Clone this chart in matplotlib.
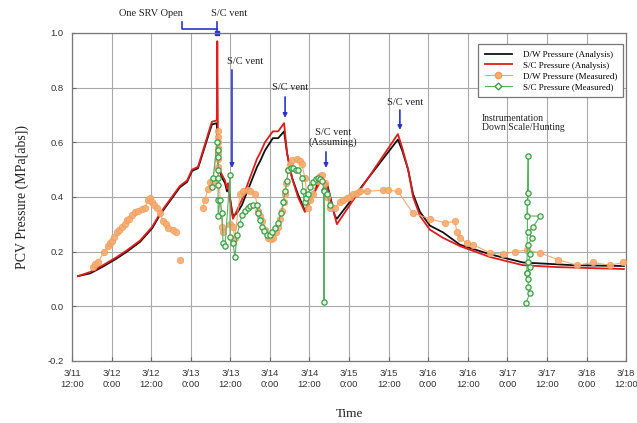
import matplotlib
matplotlib.use('Agg')
import matplotlib.pyplot as plt
from matplotlib.lines import Line2D
import numpy as np

# time = hours from 3/11 0:00, pressure in MPa[abs]
sc_calc_t = [13.8, 17.5, 21.4, 25.6, 28.7, 32.6, 36.3, 38.7, 41.7, 44.7, 46.9, 48.4, 50.2, 54.4,
             55.9, 56.05, 56.3, 57.5, 58.4, 59.0, 59.3, 60.5, 60.8, 62.0, 63.5, 68.1, 69.0, 70.5,
             72.9, 74.5, 76.3, 77.2, 78.7, 80.5, 82.6, 84.8, 87.2, 89.3, 92.3, 110.8, 112.1, 113.9,
             115.4, 117.5, 120.5, 124.5, 129.6, 138.7, 148.7, 159.1, 179.3]
sc_calc_p = [0.11, 0.125, 0.15, 0.18, 0.205, 0.24, 0.29, 0.34, 0.39, 0.44, 0.46, 0.50, 0.51, 0.675,
             0.68, 0.97, 0.51, 0.48, 0.46, 0.43, 0.45, 0.34, 0.32, 0.35, 0.39, 0.54, 0.56, 0.60,
             0.64, 0.64, 0.67, 0.56, 0.47, 0.40, 0.345, 0.40, 0.455, 0.44, 0.30, 0.63, 0.58, 0.50,
             0.40, 0.33, 0.28, 0.25, 0.22, 0.18, 0.15, 0.143, 0.136]

dw_calc_t = [13.8, 17.5, 21.4, 25.6, 28.7, 32.6, 36.3, 38.7, 41.7, 44.7, 46.9, 48.4, 50.2, 54.4,
             55.9, 56.3, 57.5, 58.4, 59.0, 59.3, 60.5, 60.8, 62.0, 63.5, 68.1, 69.0, 70.5, 72.9,
             74.5, 76.3, 77.2, 78.7, 80.5, 82.6, 84.8, 87.2, 89.3, 91.7, 92.3, 110.8, 112.1, 113.9,
             115.4, 117.5, 120.5, 124.5, 129.6, 138.7, 148.7, 163.9, 179.3]
dw_calc_p = [0.11, 0.12, 0.145, 0.175, 0.20, 0.235, 0.285, 0.335, 0.385, 0.435, 0.455, 0.495, 0.505, 0.665,
             0.67, 0.51, 0.47, 0.45, 0.42, 0.44, 0.35, 0.33, 0.34, 0.37, 0.51, 0.53, 0.57, 0.615,
             0.615, 0.64, 0.56, 0.47, 0.41, 0.35, 0.40, 0.47, 0.45, 0.33, 0.32, 0.61, 0.57, 0.50,
             0.41, 0.345, 0.295, 0.27, 0.225, 0.19, 0.16, 0.15, 0.147]

dw_meas_t = [18.4, 19.1, 19.9, 21.7, 22.9, 23.5, 24.1, 24.8, 25.6, 26.3, 27.2, 28.0, 28.7, 29.3,
             30.2, 31.1, 32.0, 33.2, 34.1, 35.0, 35.6, 36.3, 36.9, 37.8, 38.7, 39.6, 40.4,
             41.1, 42.6, 43.5, np.nan, 44.7, np.nan,
             51.7, 52.3, 53.2, 53.8, 54.8, 56.3, 56.3, 56.3, 56.3, 56.3, 56.3, 56.3, 57.5, 57.8, 59.9,
             60.8, 61.4, 62.9, 63.8, 65.4, 66.0, 67.5, 68.4, 69.0, 69.6, 70.5, 71.4, 72.2, 72.9, 73.9,
             74.5, 75.1, 75.7, 76.3, 76.6, 77.0, 77.5, 78.1, 78.7, 80.2, 81.1, 81.7, 82.6, 83.3, 83.6,
             84.2, 85.1, 86.3, 87.2, 87.8, 88.7, 89.3, 90.2, 91.7, 93.3, 94.2, 95.4, 96.3, 97.2, 98.4,
             99.3, 101.4, 106.3, 107.8, 110.8, 115.4,
             120.5, 125.1, 128.1, 128.7, 129.6, 131.8, 133.6, 138.7, 142.7, 146.3, 149.9, 153.9,
             159.4, 165.1, 170.0, 175.1, 179.1]
dw_meas_p = [0.145, 0.155, 0.16, 0.20, 0.22, 0.23, 0.24, 0.255, 0.27, 0.28, 0.29, 0.30, 0.315, 0.32,
             0.335, 0.345, 0.35, 0.355, 0.36, 0.39, 0.395, 0.38, 0.37, 0.36, 0.34, 0.31, 0.30,
             0.285, 0.28, 0.27, np.nan, 0.17, np.nan,
             0.36, 0.39, 0.43, 0.455, 0.46, 0.64, 0.62, 0.60, 0.58, 0.56, 0.54, 0.51, 0.29, 0.27, 0.30,
             0.29, 0.25, 0.41, 0.42, 0.425, 0.42, 0.41, 0.35, 0.33, 0.31, 0.28, 0.25, 0.245, 0.25, 0.27,
             0.29, 0.32, 0.35, 0.38, 0.41, 0.45, 0.50, 0.52, 0.535, 0.54, 0.53, 0.52, 0.47, 0.40, 0.36,
             0.39, 0.41, 0.46, 0.475, 0.48, 0.45, 0.40, 0.36, 0.36, 0.38, 0.39, 0.395, 0.40, 0.41, 0.415,
             0.42, 0.42, 0.425, 0.425, 0.42, 0.34,
             0.32, 0.305, 0.31, 0.27, 0.25, 0.23, 0.225, 0.195, 0.19, 0.20, 0.205, 0.195,
             0.17, 0.15, 0.16, 0.15, 0.16]

sc_meas_t = [54.4, 54.8, 56.0, 56.3, 56.3, 56.3, 56.3, 56.3, 56.3, 56.3, 56.9, 57.5, 57.8, 58.4,
             59.9, 59.9, 60.8, 61.4, 62.0, 62.9, 63.5, 64.5, 65.4, 66.0, 67.0, 68.1, 68.4, 69.0,
             69.6, 70.2, 71.1, 72.0, 72.6, 73.5, 74.5, 75.4, 76.0, 76.6, 77.2, 77.5, 78.3, 79.0,
             79.8, 80.5, 81.7, 82.0, 82.6, 83.0, 83.6, 84.3, 85.1, 86.0, 86.6, 87.2, 87.8, 88.4,
             88.4, 88.4, 89.3, 90.2,
             np.nan,
             149.9, 150.3, 150.3, 150.0, 149.9, 153.9, 151.8, 150.3, 151.5, 150.3, 150.9, 150.3,
             150.9, 149.9, 150.3, 150.3, 150.9, 149.6]
sc_meas_p = [0.435, 0.47, 0.60, 0.57, 0.545, 0.50, 0.47, 0.445, 0.39, 0.33, 0.39, 0.34, 0.23, 0.22,
             0.48, 0.255, 0.23, 0.18, 0.26, 0.30, 0.335, 0.35, 0.36, 0.365, 0.37, 0.37, 0.34, 0.315,
             0.29, 0.275, 0.26, 0.26, 0.27, 0.285, 0.305, 0.34, 0.38, 0.42, 0.46, 0.50, 0.505, 0.505,
             0.50, 0.50, 0.47, 0.42, 0.38, 0.395, 0.41, 0.435, 0.455, 0.465, 0.47, 0.465, 0.46, 0.425,
             0.015, 0.42, 0.41, 0.37,
             np.nan,
             0.12, 0.55, 0.415, 0.38, 0.33, 0.33, 0.29, 0.27, 0.25, 0.225, 0.19, 0.16,
             0.145, 0.12, 0.10, 0.07, 0.05, 0.012]

tick_hours = list(range(12, 181, 12))
tick_labels = ['3/11\n12:00', '3/12\n0:00', '3/12\n12:00', '3/13\n0:00', '3/13\n12:00',
               '3/14\n0:00', '3/14\n12:00', '3/15\n0:00', '3/15\n12:00', '3/16\n0:00',
               '3/16\n12:00', '3/17\n0:00', '3/17\n12:00', '3/18\n0:00', '3/18\n12:00']
y_ticks = [-0.2, 0.0, 0.2, 0.4, 0.6, 0.8, 1.0]

serif = 'Liberation Serif'
sans = 'Liberation Sans'
blue = '#2a35d0'
orange = '#f5a262'
green = '#3c9c48'

fig = plt.figure(figsize=(6.37, 4.23), dpi=100)
ax = fig.add_axes([0.113, 0.147, 0.870, 0.775])

ax.plot(dw_calc_t, dw_calc_p, color='#111111', lw=1.3, zorder=3)
ax.plot(sc_calc_t, sc_calc_p, color='#e01c1c', lw=1.3, zorder=4)
ax.plot(dw_meas_t, dw_meas_p, color=orange, lw=0.8, marker='o', ms=4.6,
        mfc='#f7ac72', mec='#f39c58', mew=0.6, alpha=0.9, zorder=5)
ax.plot(sc_meas_t, sc_meas_p, color='#5cae66', lw=0.8, marker='o', ms=3.8,
        mfc='#e2f4dc', mec=green, mew=0.9, zorder=6)

ax.set_xlim(12, 180)
ax.set_ylim(-0.2, 1.0)
ax.set_xticks(tick_hours)
ax.set_xticklabels(tick_labels, fontsize=6.8, family=sans, color='#333333')
ax.set_yticks(y_ticks)
ax.set_yticklabels(['%.1f' % v for v in y_ticks], fontsize=6.8, family=sans, color='#333333')
ax.tick_params(direction='in', length=3, color='#666666', pad=6)
ax.grid(True, color='#a8a8a8', lw=0.8)
ax.set_axisbelow(True)
for s in ax.spines.values():
    s.set_color('#777777')
    s.set_linewidth(0.9)

ax.set_ylabel('PCV Pressure (MPa[abs])', family=serif, fontsize=10, labelpad=13, color='#222222')
ax.set_xlabel('Time', family=serif, fontsize=9.5, labelpad=14, color='#222222')

# event annotations
txt = dict(family=serif, fontsize=7.5, color='#222222', ha='center', va='center')
ax.text(35.8, 1.073, 'One SRV Open', clip_on=False, **txt)
ax.text(59.6, 1.073, 'S/C vent', clip_on=False, **txt)
ax.plot([45.4, 45.4, 56.0], [1.04, 1.015, 1.015], color=blue, lw=1.2, clip_on=False)
ax.plot([56.0, 56.0], [1.04, 1.0], color=blue, lw=1.2, clip_on=False)
ax.plot([56.0], [1.0], 's', color=blue, ms=2.5, clip_on=False)

ax.text(64.5, 0.894, 'S/C vent', **txt)
ax.text(78.1, 0.80, 'S/C vent', **txt)
ax.text(91.1, 0.618, 'S/C vent\n(Assuming)', linespacing=1.0, **txt)
ax.text(113.0, 0.744, 'S/C vent', **txt)
for xa, y0, y1 in [(60.5, 0.865, 0.506), (76.6, 0.766, 0.689), (89.0, 0.565, 0.506), (111.4, 0.718, 0.645)]:
    ax.annotate('', xy=(xa, y1), xytext=(xa, y0),
                arrowprops=dict(arrowstyle='-|>', color=blue, lw=1.2, mutation_scale=6,
                                shrinkA=0, shrinkB=0))

ax.text(136.3, 0.669, 'Instrumentation\nDown Scale/Hunting', family=serif, fontsize=7,
        color='#222222', ha='left', va='center', linespacing=1.0)

handles = [
    Line2D([], [], color='#111111', lw=1.3),
    Line2D([], [], color='#e01c1c', lw=1.3),
    Line2D([], [], color=orange, lw=0.8, marker='o', ms=4.5, mfc='#f7ac72', mec='#f39c58'),
    Line2D([], [], color='#5cae66', lw=0.8, marker='D', ms=3.5, mfc='white', mec=green),
]
labels = ['D/W Pressure (Analysis)', 'S/C Pressure (Analysis)',
          'D/W Pressure (Measured)', 'S/C Pressure (Measured)']
leg = fig.legend(handles, labels, loc='upper left', bbox_to_anchor=(0.751, 0.895),
                 prop={'family': serif, 'size': 6.5}, fancybox=False, edgecolor='#777777',
                 framealpha=1, handlelength=3.0, labelspacing=0.25, borderpad=0.7,
                 handletextpad=1.2, borderaxespad=0)
leg.get_frame().set_linewidth(0.9)

fig.savefig('out.png', dpi=100)
